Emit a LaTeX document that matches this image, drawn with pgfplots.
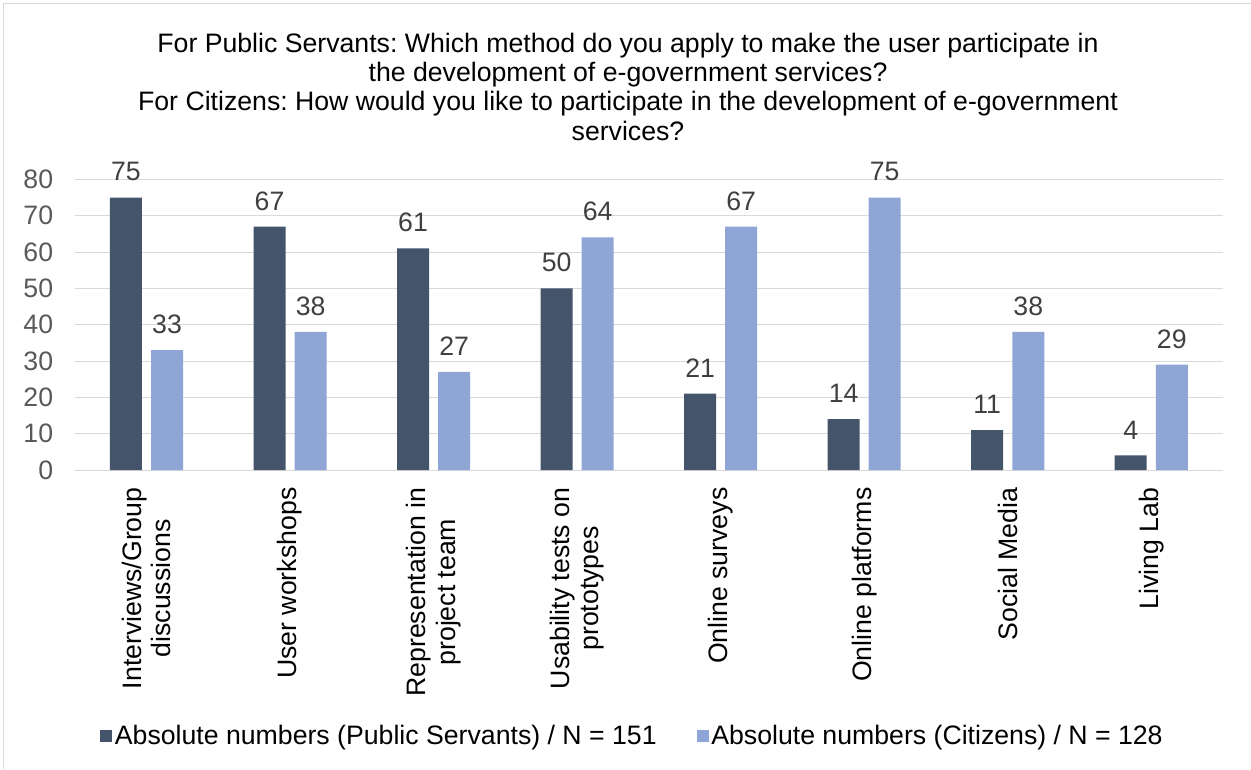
\documentclass[border=0pt]{standalone}
\usepackage{fontspec}
\setmainfont{Liberation Sans}
\usepackage{pgfplots}
\pgfplotsset{compat=1.18}
\definecolor{darkbar}{HTML}{44546A}
\definecolor{lightbar}{HTML}{8FA5D5}
\definecolor{gridgray}{HTML}{D9D9D9}
\definecolor{tickgray}{HTML}{595959}
\definecolor{labgray}{HTML}{404040}
\frenchspacing
\begin{document}
\begin{tikzpicture}
\useasboundingbox (0,0) rectangle (938.25pt,576.75pt);
\draw[gridgray, line width=0.75pt] (2.6pt,0) -- (2.6pt,573.75pt) -- (938.25pt,573.75pt);
\begin{scope}[font=\fontsize{20}{22}\selectfont]
\node[anchor=base] at (471pt,537.5pt) {For Public Servants: Which method do you apply to make the user participate in};
\node[anchor=base] at (471pt,515.5pt) {the development of e-government services?};
\node[anchor=base] at (471pt,493.75pt) {For Citizens: How would you like to participate in the development of e-government};
\node[anchor=base] at (471pt,471.5pt) {services?};
\end{scope}
\begin{axis}[
  at={(56.06pt,224.25pt)}, anchor=south west,
  scale only axis, width=861.2pt, height=218pt,
  ymin=0, ymax=80, xmin=-0.5, xmax=7.5,
  ytick={0,10,...,80},
  xtick={0,...,7},
  xticklabels={{Interviews/Group\\discussions},{User workshops},{Representation in\\project team},{Usability tests on\\prototypes},{Online surveys},{Online platforms},{Social Media},{Living Lab}},
  ymajorgrids, grid style={draw=gridgray, line width=0.75pt},
  axis x line=bottom, axis y line=left,
  axis line style={draw=none},
  major tick length=0pt, tick style={draw=none},
  /pgf/number format/assume math mode=true,
  ticklabel style={font=\fontsize{20}{22}\selectfont},
  yticklabel style={text=tickgray, anchor=east, inner sep=0pt, xshift=-16pt},
  xticklabel style={rotate=90, anchor=east, align=center, inner sep=0pt, text=black},
  xticklabel shift=13pt,
  clip=false,
  ybar,
  nodes near coords,
  nodes near coords style={font=\fontsize{20}{22}\selectfont, text=labgray, anchor=south, inner sep=0pt, yshift=12pt},
  legend image code/.code={\fill[#1] (0pt,-4.5pt) rectangle (9pt,4.5pt);},
  legend style={draw=none, fill=none, at={(0.486,-0.915)}, anchor=center, legend columns=2,
    font=\fontsize{20}{22}\selectfont, inner sep=0pt,
    /tikz/every even column/.append style={column sep=28pt},
    nodes={inner sep=2pt}},
  legend cell align=left,
]
\addplot[fill=darkbar, draw=none, bar width=24pt, bar shift=-15.4pt] coordinates {(0,75) (1,67) (2,61) (3,50) (4,21) (5,14) (6,11) (7,4)};
\addplot[fill=lightbar, draw=none, bar width=24pt, bar shift=15.4pt] coordinates {(0,33) (1,38) (2,27) (3,64) (4,67) (5,75) (6,38) (7,29)};
\legend{Absolute numbers (Public Servants) / N = 151, Absolute numbers (Citizens) / N = 128}
\end{axis}
\end{tikzpicture}
\end{document}
